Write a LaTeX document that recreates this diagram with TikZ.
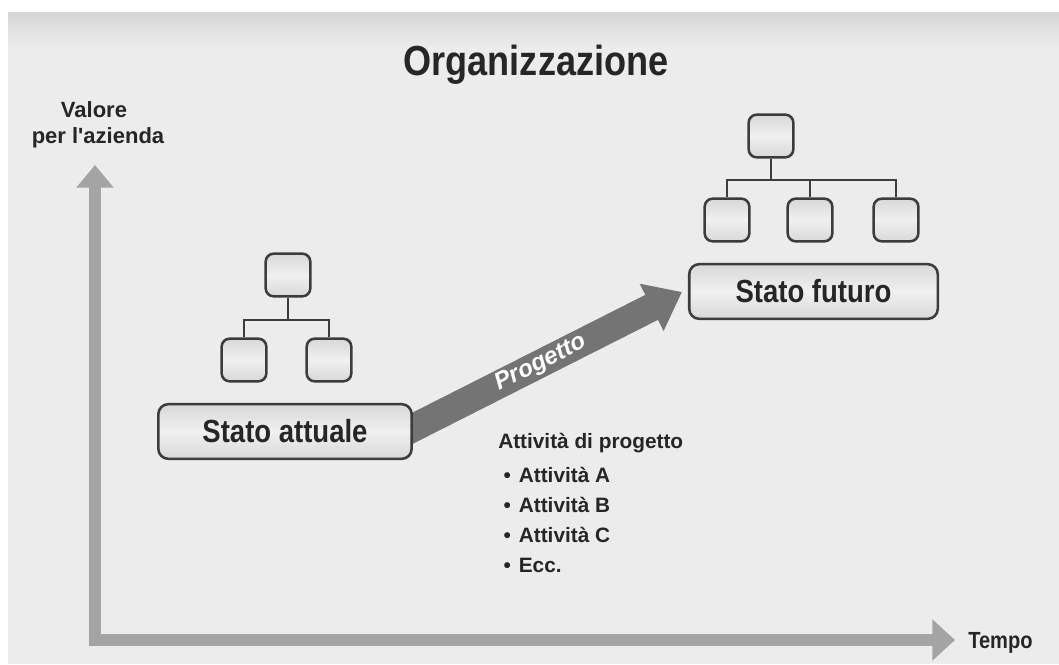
\documentclass[tikz,border=0pt]{standalone}
\usepackage{fontspec}
\setmainfont{Liberation Sans}
\newfontfamily\labelfont{Liberation Sans}[FakeStretch=0.86]
\newfontfamily\plainfont{Liberation Sans}[Ligatures=ResetAll]
\usetikzlibrary{arrows.meta,calc}
\definecolor{paper}{HTML}{ECECEC}
\definecolor{papertop}{HTML}{D6D6D6}
\definecolor{axisgray}{HTML}{A4A4A4}
\definecolor{flowgray}{HTML}{747474}
\definecolor{edge}{HTML}{3C3C3C}
\definecolor{ink}{HTML}{262626}
\definecolor{boxlight}{HTML}{F0F0F0}
\definecolor{boxdark}{HTML}{D8D8D8}
\pgfdeclarelayer{paperlayer}
\pgfdeclarelayer{flowlayer}
\pgfsetlayers{paperlayer,flowlayer,main}
\begin{document}
\begin{tikzpicture}[x=0.75pt,y=-0.75pt,
  unitbox/.style={draw=edge, line width=1.9pt, rounded corners=6pt,
    top color=boxdark, bottom color=boxdark, middle color=boxlight,
    minimum width=33.5pt, minimum height=32pt, inner sep=0pt},
  statebox/.style={draw=edge, line width=1.9pt, rounded corners=7.5pt,
    top color=boxdark, bottom color=boxdark, middle color=boxlight,
    minimum height=41pt, inner sep=0pt, text=ink,
    font=\labelfont\bfseries\fontsize{24}{28}\selectfont},
  link/.style={draw=edge, line width=1.5pt},
  axisline/.style={draw=axisgray, line width=9pt, line join=miter,
    {Triangle[width=27pt,length=17pt]}-{Triangle[width=30pt,length=17pt]}},
  flowline/.style={draw=flowgray, line width=21pt,
    -{Triangle[width=38pt,length=25.5pt]}},
  axislabel/.style={text=ink, inner sep=0pt,
    font=\plainfont\bfseries\fontsize{16.5}{18}\selectfont},
  timelabel/.style={text=ink, inner sep=0pt,
    font=\labelfont\bfseries\fontsize{17.5}{20}\selectfont},
  listtext/.style={text=ink, inner sep=0pt, align=left,
    font=\bfseries\fontsize{15.6}{22.5}\selectfont}
]
\useasboundingbox (0,0) rectangle (1059,664);

% paper sheet
\begin{pgfonlayer}{paperlayer}
  \fill[white] (0,0) rectangle (1059,664);
  \fill[paper] (8,12) rectangle (1059,664);
  \shade[top color=papertop, bottom color=paper] (8,12) rectangle (1059,48);
\end{pgfonlayer}

% title
\node[anchor=base, text=ink, inner sep=0pt,
  font=\labelfont\bfseries\fontsize{31.5}{36}\selectfont] (title) at (536,75) {Organizzazione};

% axes
\coordinate (ytip) at (95,165);
\coordinate (origin) at (95,640);
\coordinate (xtip) at (955,640);
\draw[axisline] (ytip) -- (origin) -- (xtip);
\node[axislabel, anchor=base] (ylab1) at (94,117) {Valore};
\node[axislabel, anchor=base] (ylab2) at (98,143) {per l'azienda};
\node[timelabel, anchor=base west] (xlab) at (968,648) {Tempo};

% current state with its org chart
\node[statebox, minimum width=190pt] (attuale) at (285,431.5) {Stato attuale};
\node[unitbox] (a0) at (288,275) {};
\node[unitbox] (a1) at (244,360) {};
\node[unitbox] (a2) at (329,360) {};
\coordinate (abus) at (288,320);
\draw[link] (a0.south) -- (abus);
\draw[link] (a1.north) |- (abus) -| (a2.north);

% future state with its org chart
\node[statebox, minimum width=186.4pt] (futuro) at (813.5,291.5) {Stato futuro};
\node[unitbox] (f0) at (771,136) {};
\node[unitbox] (f1) at (727,220) {};
\node[unitbox] (f2) at (810,220) {};
\node[unitbox] (f3) at (896,220) {};
\coordinate (fbus) at (771,180);
\draw[link] (f0.south) -- (fbus);
\draw[link] (f1.north) |- (fbus) -| (f3.north);
\draw[link] (f2.north) -- (f2.north |- fbus);

% project arrow, running from behind the current state box
\coordinate (flowstart) at ($(attuale.east)+(-25,9.2)$);
\coordinate (flowend) at ($(futuro.west)+(-6,0.5)$);
\begin{pgfonlayer}{flowlayer}
  \draw[flowline] (flowstart) -- (flowend)
    node[pos=0.52, sloped, text=white, inner sep=0pt,
      font=\bfseries\itshape\fontsize{18}{20}\selectfont] (progetto) {Progetto};
\end{pgfonlayer}

% project activities (anchored on the baseline of the last line)
\node[listtext, anchor=base west] (activities) at (498,572)
  {Attività di progetto\\[3pt]
   \hspace*{4pt}\textbullet\hspace{6pt}Attività A\\
   \hspace*{4pt}\textbullet\hspace{6pt}Attività B\\
   \hspace*{4pt}\textbullet\hspace{6pt}Attività C\\
   \hspace*{4pt}\textbullet\hspace{6pt}Ecc.};
\end{tikzpicture}
\end{document}
